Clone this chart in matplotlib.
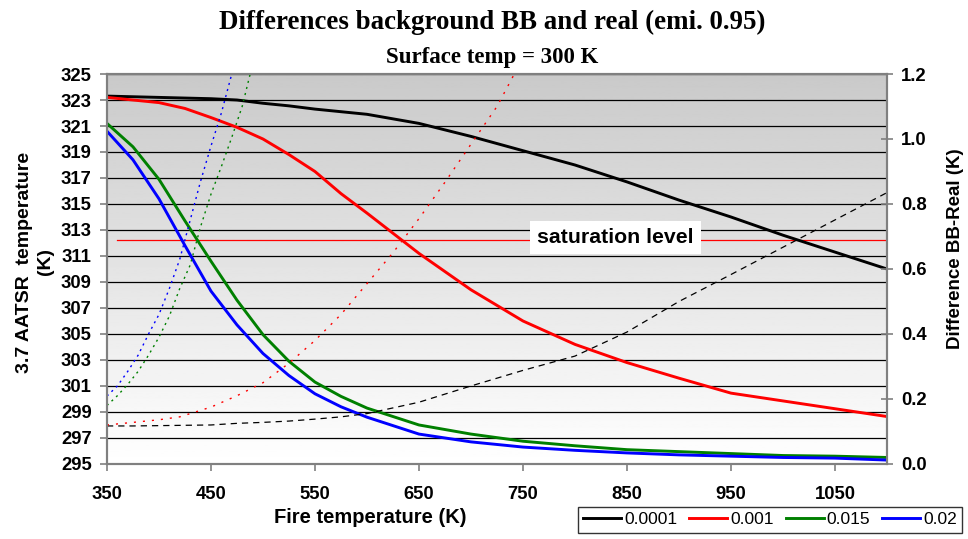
"""
Differences between background BB and real radiance (emissivity 0.95).

Solid curves: 3.7 um AATSR brightness temperature vs fire temperature
for several fire fractions (left axis).  Dotted curves: difference
BB - real for the same fractions (right axis).
"""

import numpy as np
import matplotlib.pyplot as plt

# ================================================================
# Data
# ================================================================

FIRE_T = [350, 375, 400, 425, 450, 475, 500, 525, 550, 575, 600,
          650, 700, 750, 800, 850, 900, 950, 1000, 1050, 1100]

# 3.7 AATSR temperature (K), left axis
temp_0001 = [323.3, 323.25, 323.2, 323.15, 323.1, 323.0, 322.75, 322.55,
             322.3, 322.1, 321.9, 321.2, 320.2, 319.1, 318.0, 316.7,
             315.3, 314.0, 312.6, 311.3, 310.0]
temp_001 = [323.2, 323.0, 322.8, 322.35, 321.65, 320.9, 320.0, 318.8,
            317.5, 315.8, 314.3, 311.2, 308.4, 306.0, 304.2, 302.8,
            301.6, 300.45, 299.85, 299.25, 298.65]
temp_015 = [321.2, 319.4, 316.9, 313.7, 310.6, 307.6, 304.95, 302.9,
            301.3, 300.2, 299.3, 298.0, 297.3, 296.75, 296.4, 296.1,
            295.95, 295.8, 295.65, 295.6, 295.5]
temp_02 = [320.6, 318.4, 315.4, 311.8, 308.3, 305.7, 303.5, 301.8,
           300.4, 299.4, 298.6, 297.3, 296.7, 296.3, 296.05, 295.85,
           295.7, 295.6, 295.5, 295.45, 295.3]

# Difference BB-Real (K), right axis
diff_0001 = [0.117, 0.117, 0.118, 0.119, 0.12, 0.125, 0.128, 0.132,
             0.138, 0.145, 0.155, 0.19, 0.24, 0.288, 0.332, 0.406,
             0.50, 0.583, 0.667, 0.751, 0.835]

T_DIFF_001 = [350, 375, 400, 420, 450, 475, 500, 525, 550, 575, 600,
              625, 650, 675, 700, 725, 750]
diff_001 = [0.12, 0.128, 0.136, 0.145, 0.175, 0.21, 0.25, 0.31, 0.38,
            0.46, 0.555, 0.65, 0.755, 0.867, 0.984, 1.10, 1.25]

T_DIFF_015 = [350, 360, 370, 380, 390, 400, 410, 420, 430, 440, 450,
              460, 470, 480, 490]
diff_015 = [0.18, 0.21, 0.245, 0.285, 0.335, 0.39, 0.455, 0.54, 0.612,
            0.73, 0.83, 0.915, 1.005, 1.10, 1.23]

T_DIFF_02 = [350, 360, 370, 380, 390, 400, 410, 420, 430, 440, 450,
             460, 470, 480]
diff_02 = [0.209, 0.24, 0.285, 0.335, 0.40, 0.46, 0.54, 0.63, 0.75,
           0.87, 0.978, 1.08, 1.2, 1.32]

SAT_LEVEL = 312.2        # K, left axis
SAT_START = 360

LABELS = ['0.0001', '0.001', '0.015', '0.02']
COLORS = ['black', '#ff0000', '#008000', '#0000ff']

X_TICKS = [350, 450, 550, 650, 750, 850, 950, 1050]
Y_TICKS = list(range(295, 326, 2))
Y2_TICKS = [0.0, 0.2, 0.4, 0.6, 0.8, 1.0, 1.2]

SANS = 'Liberation Sans'
SERIF = 'Liberation Serif'


def main():
    fig = plt.figure(figsize=(9.68, 5.39), dpi=100)
    ax = fig.add_axes([0.1105, 0.1392, 0.8058, 0.7235])
    ax2 = ax.twinx()

    # grey -> white background gradient
    grad = np.linspace(0.79, 1.0, 256)[:, None]
    ax.imshow(grad, cmap='gray', vmin=0, vmax=1, aspect='auto',
              extent=[350, 1100, 295, 325], origin='upper', zorder=0)

    solids = [temp_0001, temp_001, temp_015, temp_02]
    for vals, c, lab in zip(solids, COLORS, LABELS):
        ax.plot(FIRE_T, vals, color=c, lw=2.1, label=lab, zorder=3)

    ax.plot([SAT_START, 1100], [SAT_LEVEL, SAT_LEVEL], color='#ff0000',
            lw=0.9, zorder=2)

    ax2.plot(FIRE_T, diff_0001, color='black', lw=0.9,
             linestyle=(0, (5, 4)))
    ax2.plot(T_DIFF_001, diff_001, color='#ff0000', lw=1.0,
             linestyle=(0, (1.5, 5)))
    ax2.plot(T_DIFF_015, diff_015, color='#008000', lw=1.0,
             linestyle=(0, (1.5, 3)))
    ax2.plot(T_DIFF_02, diff_02, color='#0000ff', lw=1.0,
             linestyle=(0, (1.5, 3)))

    ax2.text(839, 0.698, 'saturation level', ha='center', va='center',
             fontsize=15.3, fontweight='bold', family=SANS, zorder=5,
             bbox=dict(facecolor='white', edgecolor='none', pad=5))

    ax.set_xlim(350, 1100)
    ax.set_ylim(295, 325)
    ax2.set_ylim(0, 1.2)
    ax.set_xticks(X_TICKS)
    ax.set_yticks(Y_TICKS)
    ax2.set_yticks(Y2_TICKS)
    ax2.set_yticklabels([f'{v:.1f}' for v in Y2_TICKS])

    ax.set_axisbelow(True)
    ax.yaxis.grid(True, color='black', lw=0.9, zorder=1)

    for a in (ax, ax2):
        for s in a.spines.values():
            s.set_color('#808080')
            s.set_linewidth(1.5)
    ax.tick_params(axis='y', length=5, width=1.2, color='#808080',
                   pad=6, labelsize=13.3)
    ax.tick_params(axis='x', length=5, width=1.2, color='#808080',
                   pad=11, labelsize=13.3)
    ax2.tick_params(axis='y', direction='inout', length=8, width=1.2,
                    color='#808080', pad=6, labelsize=13.3)
    for lab in ax.get_xticklabels() + ax.get_yticklabels() + \
            ax2.get_yticklabels():
        lab.set_fontweight('bold')
        lab.set_family(SANS)

    fig.text(0.508, 0.958, 'Differences background BB and real (emi. 0.95)',
             ha='center', va='center', fontsize=19.4, fontweight='bold',
             family=SERIF)
    fig.text(0.508, 0.894, 'Surface temp = 300 K', ha='center',
             va='center', fontsize=16.5, fontweight='bold', family=SERIF)
    fig.text(0.382, 0.039, 'Fire temperature (K)', ha='center',
             va='center', fontsize=14.5, fontweight='bold', family=SANS)
    fig.text(0.036, 0.514, '3.7 AATSR  temperature\n(K)', rotation=90,
             ha='center', va='center', multialignment='center',
             linespacing=1.3, fontsize=14, fontweight='bold', family=SANS)
    fig.text(0.987, 0.539, 'Difference BB-Real (K)', rotation=90,
             ha='center', va='center', fontsize=13.5, fontweight='bold',
             family=SANS)

    leg = fig.legend(loc='upper left', bbox_to_anchor=(0.597, 0.0594),
                     ncol=4, frameon=True, fancybox=False,
                     handlelength=2.2, handletextpad=0.15,
                     columnspacing=0.7, borderpad=0.3, borderaxespad=0,
                     prop={'family': SANS, 'size': 12.5})
    leg.get_frame().set_edgecolor('black')
    leg.get_frame().set_linewidth(1.0)

    fig.savefig('out.png', dpi=100)


if __name__ == '__main__':
    main()
